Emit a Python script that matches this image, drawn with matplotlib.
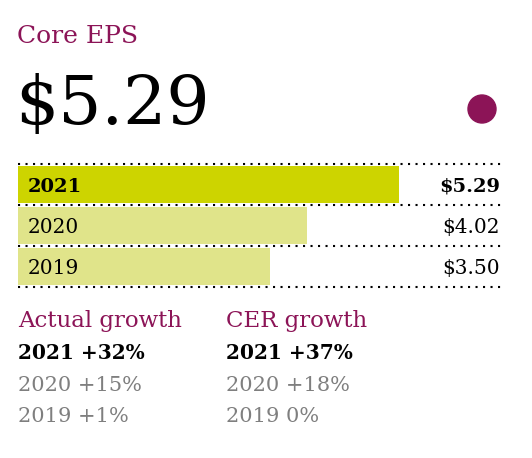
import matplotlib
matplotlib.use("Agg")
import matplotlib.pyplot as plt
from matplotlib.patches import Ellipse

# Data
years = ["2021", "2020", "2019"]
eps = [5.29, 4.02, 3.50]
eps_labels = ["$5.29", "$4.02", "$3.50"]
headline = "$5.29"
actual_growth = ["2021 +32%", "2020 +15%", "2019 +1%"]
cer_growth = ["2021 +37%", "2020 +18%", "2019 0%"]

# Colours
purple = "#8c1457"
bar_main = "#cdd400"
bar_prev = "#e0e48a"
grey = "#7f7f7f"

W, H = 532, 458
plt.rcParams["font.family"] = ["DejaVu Serif"]
fig = plt.figure(figsize=(W / 100, H / 100), dpi=100)


def fx(px):
    return px / W


def fy(py):
    return 1 - py / H


# Header
fig.text(fx(17), fy(43), "Core EPS", color=purple, fontsize=18, va="baseline")
fig.text(fx(15), fy(124), headline, color="black", fontsize=49, va="baseline")
fig.add_artist(Ellipse((fx(482), fy(109)), 28 / W, 28 / H,
                       transform=fig.transFigure, color=purple))

# Bars
ax = fig.add_axes([fx(18), fy(287), fx(502) - fx(18), fy(164) - fy(287)])
colors = [bar_main, bar_prev, bar_prev]
ax.barh(range(len(years)), eps, height=0.92, color=colors, align="center")
ax.set_xlim(0, 484 / 72)
ax.set_ylim(2.5, -0.5)
for y in [-0.5, 0.5, 1.5, 2.5]:
    ax.axhline(y, color="black", lw=1.5, linestyle=(0, (1, 2.6)), clip_on=False)
for i, (yr, lab) in enumerate(zip(years, eps_labels)):
    w = "bold" if i == 0 else "normal"
    ax.text(10 / 72, i + 0.05, yr, fontsize=14 if i == 0 else 14.5,
            fontweight=w, va="center", ha="left")
    ax.text(482 / 72, i + 0.05, lab, fontsize=14 if i == 0 else 14.5,
            fontweight=w, va="center", ha="right")
ax.axis("off")

# Growth columns
for x0, title, rows in [(18, "Actual growth", actual_growth),
                        (226, "CER growth", cer_growth)]:
    fig.text(fx(x0), fy(327), title, color=purple, fontsize=16.5, va="baseline")
    for j, (txt, base) in enumerate(zip(rows, [359, 391, 422])):
        if j == 0:
            fig.text(fx(x0), fy(base), txt, color="black", fontsize=14.5,
                     fontweight="bold", va="baseline")
        else:
            fig.text(fx(x0), fy(base), txt, color=grey, fontsize=15,
                     va="baseline")

fig.savefig("out.png", dpi=100)
